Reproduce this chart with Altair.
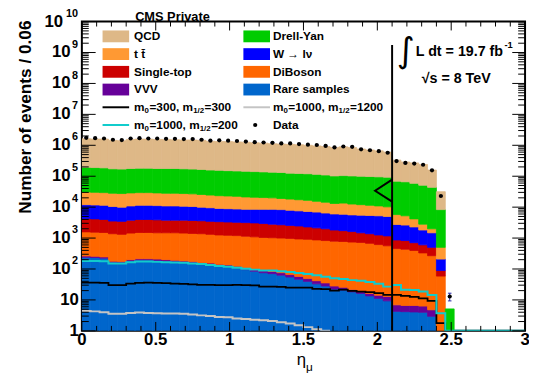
import altair as alt
import pandas as pd
import numpy as np

# ---------------- data (log10 of stacked-histogram tops) ----------------
BIN_W = 0.06
N_ALL = 50  # 0..3 in 0.06 bins

procs = ["Rare samples", "VVV", "DiBoson", "Single-top", "W \u2192 l\u03bd", "t t\u0304", "Drell-Yan", "QCD"]
colors = ["#0066cc", "#660099", "#ff6600", "#cc0000", "#0000ff", "#ff9933", "#00cc00", "#deb887"]

top_rare = [2.38,2.37,2.35,2.22,2.21,2.27,2.29,2.29,2.28,2.26, 2.24,2.22,2.20,2.17,2.14,2.10,2.07,2.03,1.98,1.93,
            1.88,1.85,1.80,1.74,1.67,1.60,1.52,1.45,1.35,1.32, 1.26,1.21,1.13,1.05,0.97,0.63,0.62,0.61,0.60,0.47, 0,0]
top_vvv = [2.42,2.41,2.39,2.25,2.24,2.30,2.33,2.33,2.32,2.30, 2.28,2.26,2.24,2.21,2.19,2.15,2.13,2.09,2.04,2.00,
           1.95,1.92,1.88,1.82,1.76,1.69,1.62,1.55,1.45,1.41, 1.34,1.27,1.21,1.15,1.11,0.84,0.82,0.82,0.80,0.68, 0,0]
top_diboson = [3.20,3.19,3.18,3.14,3.12,3.16,3.18,3.18,3.17,3.17, 3.17,3.16,3.15,3.14,3.12,3.10,3.09,3.08,3.06,3.04,
               3.02,3.01,3.00,2.99,2.97,2.96,2.94,2.92,2.90,2.89, 2.87,2.86,2.83,2.79,2.75,2.66,2.64,2.60,2.52,2.43, 1.77,0]
top_singletop = [3.63,3.62,3.60,3.55,3.54,3.58,3.60,3.60,3.59,3.58, 3.58,3.58,3.57,3.56,3.54,3.53,3.52,3.51,3.50,3.49,
                 3.47,3.45,3.43,3.41,3.39,3.36,3.33,3.30,3.26,3.24, 3.21,3.17,3.14,3.10,3.07,2.94,2.92,2.85,2.78,2.70, 1.95,0]
top_wjets = [4.08,4.07,4.06,4.02,4.00,4.04,4.06,4.06,4.05,4.04, 4.04,4.03,4.02,4.00,3.98,3.96,3.95,3.94,3.93,3.93,
             3.93,3.93,3.92,3.90,3.88,3.86,3.84,3.81,3.78,3.77, 3.75,3.74,3.73,3.72,3.70,3.44,3.42,3.36,3.26,3.17, 2.32,0]
top_ttbar = [4.49,4.48,4.47,4.45,4.44,4.46,4.47,4.47,4.46,4.45, 4.45,4.44,4.43,4.41,4.39,4.37,4.36,4.35,4.33,4.32,
             4.31,4.30,4.28,4.26,4.24,4.22,4.19,4.16,4.12,4.13, 4.10,4.08,4.06,4.04,4.01,3.76,3.72,3.62,3.45,3.30, 2.70,0]
top_dy = [5.29,5.28,5.27,5.24,5.23,5.25,5.26,5.26,5.25,5.25, 5.25,5.24,5.23,5.22,5.20,5.19,5.18,5.17,5.16,5.15,
          5.14,5.13,5.12,5.10,5.09,5.08,5.06,5.04,5.01,5.02, 5.01,5.00,4.99,4.98,4.97,4.84,4.82,4.77,4.71,4.64, 3.92,0.71]
top_qcd = [6.21,6.20,6.20,6.16,6.15,6.19,6.20,6.20,6.19,6.19, 6.18,6.17,6.17,6.16,6.13,6.12,6.12,6.11,6.10,6.08,
           6.07,6.05,6.04,6.03,6.02,6.00,5.98,5.96,5.93,5.95, 5.93,5.88,5.85,5.82,5.78,5.52,5.46,5.43,5.38,5.20, 4.50,0.71]

data_log = [6.24,6.23,6.22,6.18,6.17,6.22,6.23,6.22,6.22,6.21, 6.21,6.20,6.20,6.18,6.15,6.16,6.15,6.14,6.12,6.10,
            6.09,6.08,6.06,6.06,6.04,6.02,6.01,5.98,5.93,5.96, 5.95,5.87,5.84,5.81,5.76,5.49,5.43,5.41,5.37,5.19, 4.36,1.11]

sig_cyan = [2.26,2.26,2.25,2.18,2.18,2.22,2.24,2.24,2.23,2.22, 2.21,2.20,2.18,2.16,2.13,2.10,2.07,2.04,2.01,1.98,
            1.95,1.95,1.93,1.90,1.87,1.84,1.80,1.75,1.70,1.68, 1.64,1.62,1.58,1.52,1.43,1.48,1.33,1.32,1.27,1.16,
            0.57,0,0,0,0,0,0,0,0,0]
sig_black = [1.56,1.56,1.55,1.48,1.48,1.53,1.55,1.56,1.55,1.54, 1.53,1.52,1.50,1.49,1.49,1.48,1.48,1.49,1.48,1.47,
             1.43,1.43,1.42,1.40,1.40,1.40,1.36,1.35,1.30,1.33, 1.29,1.27,1.25,1.22,1.16,1.16,1.13,1.10,1.05,0.97, 0.25,0]
sig_gray = [0.64,0.63,0.60,0.55,0.55,0.58,0.59,0.58,0.57,0.56, 0.56,0.55,0.53,0.50,0.48,0.45,0.44,0.40,0.38,0.36,
            0.34,0.32,0.28,0.24,0.18,0.12,0.05,0.0]

x_tick_labels = ["0", "0.5", "1", "1.5", "2", "2.5", "3"]
x_tick_values = [0, 0.5, 1, 1.5, 2, 2.5, 3]

cut_value = 2.1

# ---------------- helpers ----------------
W, H = 450, 314
FONT = "Liberation Sans"
xs = alt.Scale(domain=[0, 3], nice=False, zero=False)
ys = alt.Scale(type="log", domain=[1, 1e10], nice=False)

tops = [top_rare, top_vvv, top_diboson, top_singletop, top_wjets, top_ttbar, top_dy, top_qcd]
rows = []
prev = [0.0] * len(top_qcd)
for j, (p, t) in enumerate(zip(procs, tops)):
    for i, v in enumerate(t):
        lo_v = prev[i]
        hi_v = max(v, lo_v)
        if hi_v > lo_v:
            rows.append(dict(proc=p, lo=round(i * BIN_W, 3), hi=round((i + 1) * BIN_W, 3),
                             b=10 ** lo_v, t=10 ** hi_v))
        prev[i] = hi_v
df_stack = pd.DataFrame(rows)

pscale = alt.Scale(domain=procs, range=colors)
stack = alt.Chart(df_stack).mark_rect(clip=True, strokeWidth=0.8).encode(
    x=alt.X("lo:Q", scale=xs, axis=None), x2="hi:Q",
    y=alt.Y("b:Q", scale=ys, axis=None), y2="t:Q",
    color=alt.Color("proc:N", scale=pscale, legend=None),
    stroke=alt.Stroke("proc:N", scale=pscale, legend=None),
)


def step_df(vals):
    pts = []
    k = 0
    for i, v in enumerate(vals):
        pts.append(dict(x=i * BIN_W, y=10 ** v, k=k)); k += 1
        pts.append(dict(x=(i + 1) * BIN_W, y=10 ** v, k=k)); k += 1
    pts.append(dict(x=len(vals) * BIN_W, y=1.0, k=k))
    return pd.DataFrame(pts)


def step_layer(vals, color, sw):
    return alt.Chart(step_df(vals)).mark_line(color=color, strokeWidth=sw, clip=True).encode(
        x=alt.X("x:Q", scale=xs, axis=None), y=alt.Y("y:Q", scale=ys, axis=None), order="k:Q")


lines = step_layer(sig_gray, "#c4c4c4", 2) + step_layer(sig_black, "black", 1.8) + step_layer(sig_cyan, "#11cccc", 2)

# data points
dN = 10 ** np.array(data_log)
df_data = pd.DataFrame(dict(x=[(i + 0.5) * BIN_W for i in range(len(data_log))], y=dN,
                            lo=np.maximum(dN - np.sqrt(dN), 1.0), hi=dN + np.sqrt(dN)))
df_data["xl"] = df_data.x - 0.012
df_data["xr"] = df_data.x + 0.012
err = alt.Chart(df_data).mark_rule(color="#2a2aa8", strokeWidth=1).encode(
    x=alt.X("x:Q", scale=xs, axis=None), y=alt.Y("lo:Q", scale=ys, axis=None), y2="hi:Q")
cap_lo = alt.Chart(df_data).mark_rule(color="#2a2aa8", strokeWidth=1).encode(
    x=alt.X("xl:Q", scale=xs, axis=None), x2="xr:Q", y=alt.Y("lo:Q", scale=ys, axis=None))
cap_hi = alt.Chart(df_data).mark_rule(color="#2a2aa8", strokeWidth=1).encode(
    x=alt.X("xl:Q", scale=xs, axis=None), x2="xr:Q", y=alt.Y("hi:Q", scale=ys, axis=None))
dots = alt.Chart(df_data).mark_circle(color="black", size=18, opacity=1).encode(
    x=alt.X("x:Q", scale=xs, axis=None), y=alt.Y("y:Q", scale=ys, axis=None))

# cut line and arrow
df_cut = pd.DataFrame(dict(x=[cut_value], y1=[1.0], y2=[10 ** 9.24]))
cut = alt.Chart(df_cut).mark_rule(color="black", strokeWidth=2).encode(
    x=alt.X("x:Q", scale=xs, axis=None), y=alt.Y("y1:Q", scale=ys, axis=None), y2="y2:Q")
df_arrow = pd.DataFrame(dict(x=[cut_value, 1.985, cut_value], y=[10 ** 4.89, 10 ** 4.53, 10 ** 4.18], k=[0, 1, 2]))
arrow = alt.Chart(df_arrow).mark_line(color="black", strokeWidth=2).encode(
    x=alt.X("x:Q", scale=xs, axis=None), y=alt.Y("y:Q", scale=ys, axis=None), order="k:Q")

# inward ticks (ROOT style)
y_major = [10.0 ** n for n in range(0, 11)]
y_minor = [m * 10.0 ** n for n in range(0, 10) for m in range(2, 10)]
x_minor = [round(k * 0.1, 2) for k in range(31) if k % 5 != 0]
dfym = pd.DataFrame(dict(v=y_major)); dfyn = pd.DataFrame(dict(v=y_minor))
dfxm = pd.DataFrame(dict(v=x_tick_values)); dfxn = pd.DataFrame(dict(v=x_minor))


def yt(df, x0, x1):
    return alt.Chart(df).mark_rule(color="black", strokeWidth=1).encode(
        y=alt.Y("v:Q", scale=ys, axis=None), x=alt.value(x0), x2=alt.value(x1))


def xt(df, y0, y1):
    return alt.Chart(df).mark_rule(color="black", strokeWidth=1).encode(
        x=alt.X("v:Q", scale=xs, axis=None), y=alt.value(y0), y2=alt.value(y1))


ticks = (yt(dfym, 0, 14) + yt(dfyn, 0, 7) + yt(dfym, W - 13, W) + yt(dfyn, W - 7, W)
         + xt(dfxm, H, H - 9) + xt(dfxn, H, H - 5) + xt(dfxm, 0, 9) + xt(dfxn, 0, 5))

# y tick labels
ylab = []
for n in range(0, 11):
    if n == 0:
        ylab.append(dict(v=1.0, base="1", bx=-3, exp="", ex=-3))
    elif n == 1:
        ylab.append(dict(v=10.0, base="10", bx=-3, exp="", ex=-3))
    else:
        e = str(n)
        ylab.append(dict(v=10.0 ** n, base="10", bx=-4 - 7.5 * len(e), exp=e, ex=-4))
df_ylab = pd.DataFrame(ylab)
ybase = alt.Chart(df_ylab).mark_text(font=FONT, fontWeight="bold", fontSize=17, align="right",
                                     baseline="middle", color="black").encode(
    x=alt.X("bx:Q", scale=None), y=alt.Y("v:Q", scale=ys, axis=None), text="base:N")
yexp = alt.Chart(df_ylab).mark_text(font=FONT, fontWeight="bold", fontSize=11, align="right",
                                    baseline="middle", dy=-8, color="black").encode(
    x=alt.X("ex:Q", scale=None), y=alt.Y("v:Q", scale=ys, axis=None), text="exp:N")

df_xlab = pd.DataFrame(dict(v=x_tick_values, t=x_tick_labels))
xlab = alt.Chart(df_xlab).mark_text(font=FONT, fontWeight="bold", fontSize=17, align="center",
                                    baseline="middle", color="black").encode(
    x=alt.X("v:Q", scale=xs, axis=None), y=alt.value(H + 9), text="t:N")

# ---------------- legend (custom, two columns) ----------------
HB = {'m': 889, '=': 584, ',': 278, ' ': 278, '/': 278, '.': 278, 'L': 611, 'd': 611, 't': 333,
      'f': 333, 'b': 611}
def tw(s, fs):
    return sum(HB.get(c, 556) for c in s) * fs / 1000.0

leg_left = ["QCD", "t t\u0304", "Single-top", "VVV", "m0=300, m1/2=300", "m0=1000, m1/2=200"]
leg_right = ["Drell-Yan", "W \u2192 l\u03bd", "DiBoson", "Rare samples", "m0=1000, m1/2=1200", "Data"]
leg_left_col = ["#deb887", "#ff9933", "#cc0000", "#660099"]
leg_right_col = ["#00cc00", "#0000ff", "#ff6600", "#0066cc"]
leg_line_col = {("L", 4): "black", ("L", 5): "#11cccc", ("R", 4): "#c4c4c4"}

row_y = [15 + 18 * i for i in range(6)]
col_box_x = {"L": 21, "R": 164}
col_txt_x = {"L": 53, "R": 194}
FS, FSS = 12, 8

boxes, texts, llines = [], [], []
for col, labels, cols in (("L", leg_left, leg_left_col), ("R", leg_right, leg_right_col)):
    for i, lab in enumerate(labels):
        yy = row_y[i]
        if i < 4:
            boxes.append(dict(x0=col_box_x[col], x1=col_box_x[col] + 27, y0=yy - 6, y1=yy + 6, c=cols[i]))
        if (col, i) in leg_line_col:
            llines.append(dict(x0=col_box_x[col], x1=col_box_x[col] + 27, y=yy, c=leg_line_col[(col, i)]))
        x = col_txt_x[col]
        if lab.startswith("m0="):
            rest = lab[3:]
            a, b = rest.split(", m1/2=")
            pieces = [("m", False), ("0", True), ("=" + a + ", m", False), ("1/2", True), ("=" + b, False)]
            for s, sub in pieces:
                fs = FSS if sub else FS
                texts.append(dict(x=x, y=yy + (4 if sub else 0), t=s, fs=fs))
                x += tw(s, fs) + (0.5 if sub else 0)
        else:
            texts.append(dict(x=x, y=yy, t=lab, fs=FS))

df_box = pd.DataFrame(boxes)
leg_boxes = alt.Chart(df_box).mark_rect().encode(
    x=alt.X("x0:Q", scale=None), x2="x1:Q", y=alt.Y("y0:Q", scale=None), y2="y1:Q",
    color=alt.Color("c:N", scale=None))
df_ll = pd.DataFrame(llines)
leg_lines = alt.Chart(df_ll).mark_rule(strokeWidth=2).encode(
    x=alt.X("x0:Q", scale=None), x2="x1:Q", y=alt.Y("y:Q", scale=None), color=alt.Color("c:N", scale=None))
df_lt = pd.DataFrame(texts)
leg_text = alt.Chart(df_lt).mark_text(font=FONT, fontWeight="bold", align="left", baseline="middle",
                                      color="black").encode(
    x=alt.X("x:Q", scale=None), y=alt.Y("y:Q", scale=None), text="t:N", size=alt.Size("fs:Q", scale=None))
df_ld = pd.DataFrame(dict(x=[176], y=[row_y[5]]))
leg_dot = alt.Chart(df_ld).mark_circle(color="black", size=18, opacity=1).encode(
    x=alt.X("x:Q", scale=None), y=alt.Y("y:Q", scale=None))

# ---------------- annotations ----------------
lumi_txt = "L dt = 19.7 fb"
ann = pd.DataFrame([
    dict(x=92, y=-5, t="CMS Private", fs=13, f=FONT, w="bold", a="center"),
    dict(x=339, y=31, t=lumi_txt, fs=14.5, f=FONT, w="bold", a="left"),
    dict(x=339 + tw(lumi_txt, 14.5) + 1, y=24, t="-1", fs=9.5, f=FONT, w="bold", a="left"),
    dict(x=345, y=58, t="\u221as = 8 TeV", fs=14.5, f=FONT, w="bold", a="left"),
    dict(x=306 - 83, y=363 - 19, t="\u03b7", fs=17, f=FONT, w="normal", a="center"),
    dict(x=314 - 83, y=370 - 19, t="\u03bc", fs=12, f=FONT, w="normal", a="center"),
])
ann_layers = []
for _, r in ann.iterrows():
    ann_layers.append(alt.Chart(pd.DataFrame([r])).mark_text(
        font=r.f, fontWeight=r.w, fontSize=float(r.fs), align=r.a, baseline="middle", color="black").encode(
        x=alt.X("x:Q", scale=None), y=alt.Y("y:Q", scale=None), text="t:N"))
integral = alt.Chart(pd.DataFrame(dict(x=[329], y=[30], t=["\u222b"]))).mark_text(
    font="DejaVu Sans", fontSize=35, align="center", baseline="middle", color="black").encode(
    x=alt.X("x:Q", scale=None), y=alt.Y("y:Q", scale=None), text="t:N")
ytitle = alt.Chart(pd.DataFrame(dict(x=[-57], y=[97], t=["Number of events / 0.06"]))).mark_text(
    font=FONT, fontWeight="bold", fontSize=17.5, align="center", baseline="middle", angle=270,
    color="black").encode(x=alt.X("x:Q", scale=None), y=alt.Y("y:Q", scale=None), text="t:N")

chart = alt.layer(
    stack, lines, err, cap_lo, cap_hi, dots, cut, arrow, ticks,
    ybase, yexp, xlab, leg_boxes, leg_lines, leg_text, leg_dot, integral, ytitle, *ann_layers
).properties(
    width=W, height=H,
    autosize=alt.AutoSizeParams(type="none"),
    padding={"left": 75, "top": 11, "right": 4, "bottom": 40},
    background="white",
).configure_view(stroke="black", strokeWidth=2)

chart.save("out.html", embed_options={"renderer": "svg", "actions": False})
